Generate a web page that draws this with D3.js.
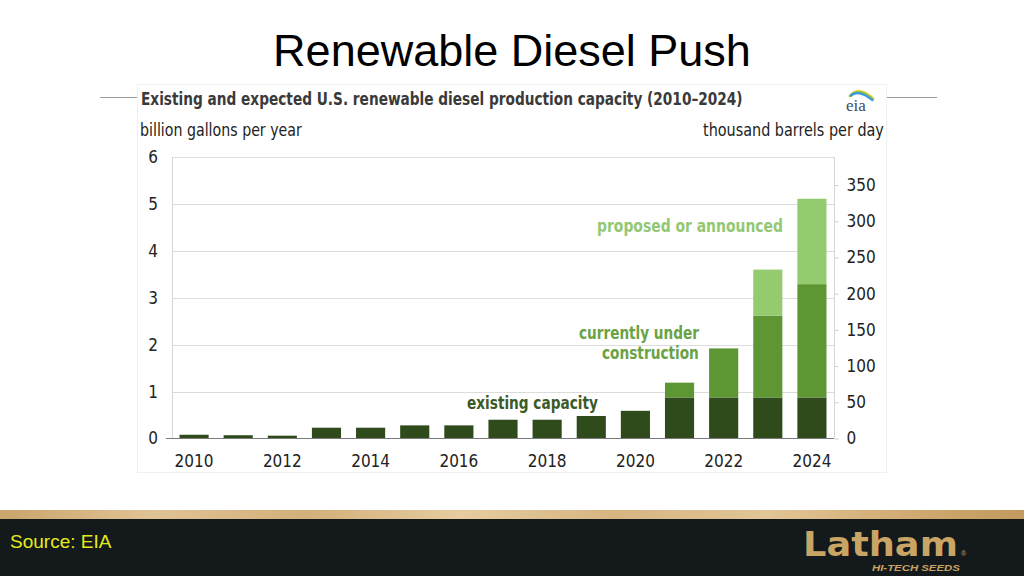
<!DOCTYPE html>
<html>
<head>
<meta charset="utf-8">
<script src="https://cdn.jsdelivr.net/npm/d3@7"></script>
<style>
  html, body { margin: 0; padding: 0; background: #fff; }
  svg { display: block; }
</style>
</head>
<body>
<svg id="chart" width="1024" height="576"></svg>
<script>
// ---- data ----
const years = [2010, 2011, 2012, 2013, 2014, 2015, 2016, 2017, 2018, 2019, 2020, 2021, 2022, 2023, 2024];
const existing     = [0.08, 0.07, 0.06, 0.23, 0.23, 0.28, 0.28, 0.40, 0.40, 0.48, 0.59, 0.875, 0.875, 0.875, 0.875];
const construction = [0, 0, 0, 0, 0, 0, 0, 0, 0, 0, 0, 0.315, 1.045, 1.745, 2.415];
const proposed     = [0, 0, 0, 0, 0, 0, 0, 0, 0, 0, 0, 0, 0, 0.98, 1.82];
const seriesNames = ["existing", "construction", "proposed"];
const leftTicks = [0, 1, 2, 3, 4, 5, 6];
const rightTicks = [0, 50, 100, 150, 200, 250, 300, 350];
const xTickYears = [2010, 2012, 2014, 2016, 2018, 2020, 2022, 2024];
const kbdPerBgy = 64.8;

const colors = { existing: "#2f4b1c", construction: "#5e9634", proposed: "#94cb6f" };
const narrow = "'Liberation Sans Narrow', 'Arial Narrow', 'DejaVu Sans Condensed', sans-serif";
const sans = "'Liberation Sans', Arial, Helvetica, sans-serif";

const svg = d3.select("#chart");

// fit a text horizontally to a width by scaling (keeps bbox honest)
function fitText(sel, x, y, width) {
  sel.attr("x", 0).attr("y", 0);
  const w = sel.node().getComputedTextLength();
  sel.attr("transform", `translate(${x},${y}) scale(${width / w},1)`);
  return sel;
}

// ---- slide background pieces ----
svg.append("rect").attr("x", 0).attr("y", 0).attr("width", 1024).attr("height", 576).attr("fill", "#fff");

// title
svg.append("text").attr("x", 512).attr("y", 66).attr("text-anchor", "middle")
  .attr("font-family", sans).attr("font-size", 45).attr("fill", "#000")
  .text("Renewable Diesel Push");

// decorative lines behind chart image
svg.append("line").attr("x1", 100).attr("x2", 137).attr("y1", 97.5).attr("y2", 97.5).attr("stroke", "#9a9a9a");
svg.append("line").attr("x1", 887).attr("x2", 937).attr("y1", 97.5).attr("y2", 97.5).attr("stroke", "#9a9a9a");

// chart image frame
svg.append("rect").attr("x", 137.5).attr("y", 84.5).attr("width", 749).attr("height", 388)
  .attr("fill", "#fff").attr("stroke", "#f0f0f0");

// bottom band
const defs = svg.append("defs");
const grad = defs.append("linearGradient").attr("id", "wood").attr("x1", 0).attr("x2", 1).attr("y1", 0).attr("y2", 0);
[[0, "#caa56c"], [0.15, "#e0c395"], [0.3, "#d2b07b"], [0.45, "#e6cc9f"], [0.6, "#d6b582"], [0.75, "#e2c697"], [0.9, "#cfa86f"], [1, "#c29a5e"]]
  .forEach(([o, c]) => grad.append("stop").attr("offset", o).attr("stop-color", c));
svg.append("rect").attr("x", 0).attr("y", 510).attr("width", 1024).attr("height", 10).attr("fill", "url(#wood)");
svg.append("rect").attr("x", 0).attr("y", 519).attr("width", 1024).attr("height", 57).attr("fill", "#14191b");
svg.append("text").attr("x", 10).attr("y", 548).attr("font-family", sans).attr("font-size", 19)
  .attr("fill", "#e3ec1c").text("Source: EIA");

// Latham logo
const gold = "#c9a465";
fitText(svg.append("text").attr("font-family", "'DejaVu Sans', sans-serif")
  .attr("font-weight", "bold").attr("font-size", 34).attr("fill", gold).text("Latham"), 803, 556, 155);
svg.append("text").attr("x", 961).attr("y", 556).attr("font-family", sans).attr("font-size", 7).attr("fill", gold).text("®");
fitText(svg.append("text").attr("font-family", sans).attr("font-weight", "bold")
  .attr("font-style", "italic").attr("font-size", 9.5).attr("fill", gold).text("HI-TECH SEEDS"), 872, 571, 88);

// ---- chart header ----
fitText(svg.append("text").attr("font-family", narrow).attr("font-size", 18)
  .attr("font-weight", "bold").attr("fill", "#3a3a3a")
  .text("Existing and expected U.S. renewable diesel production capacity (2010–2024)"), 141, 105, 602);
fitText(svg.append("text").attr("font-family", narrow).attr("font-size", 17)
  .attr("fill", "#222").text("billion gallons per year"), 140, 136, 162);
fitText(svg.append("text").attr("font-family", narrow).attr("font-size", 17)
  .attr("fill", "#222").text("thousand barrels per day"), 703, 136, 181);

// eia logo
const logo = svg.append("g");
[["#f2d33a", 0], ["#8cc152", 2.2], ["#3a9ad9", 4.4]].forEach(([c, off]) => {
  logo.append("path").attr("d", `M ${849 + off * 0.3} ${97 - off * 0.2} Q ${858} ${84 + off} ${874 - off * 0.2} ${99 + off * 0.4}`)
    .attr("fill", "none").attr("stroke", c).attr("stroke-width", 2.2);
});
logo.append("text").attr("x", 846).attr("y", 111).attr("font-family", "'Liberation Serif', 'DejaVu Serif', serif")
  .attr("font-size", 17).attr("fill", "#3d4a68").text("eia");

// ---- scales ----
const plotL = 172, plotR = 834, yTop = 157, yBase = 438.5;
const x = d3.scaleBand().domain(years).range([plotL, plotR]).paddingInner(0.34).paddingOuter(0.17);
const y = d3.scaleLinear().domain([0, 6]).range([yBase, yTop]);
const y2 = d3.scaleLinear().domain([0, 6 * kbdPerBgy]).range([yBase, yTop]);

// gridlines
const g = svg.append("g");
g.selectAll("line.grid").data(leftTicks.filter(d => d > 0)).join("line")
  .attr("x1", plotL).attr("x2", plotR)
  .attr("y1", d => Math.round(y(d)) + 0.5).attr("y2", d => Math.round(y(d)) + 0.5)
  .attr("stroke", "#dcdcdc");
g.append("line").attr("x1", plotL + 0.5).attr("x2", plotL + 0.5).attr("y1", yTop).attr("y2", yBase).attr("stroke", "#d6d6d6");
g.append("line").attr("x1", plotR + 0.5).attr("x2", plotR + 0.5).attr("y1", yTop).attr("y2", yBase).attr("stroke", "#d6d6d6");

// stacked bars
const table = years.map((yr, i) => ({ year: yr, existing: existing[i], construction: construction[i], proposed: proposed[i] }));
const stack = d3.stack().keys(seriesNames)(table);
svg.append("g").selectAll("g").data(stack).join("g")
  .attr("fill", d => colors[d.key])
  .selectAll("rect").data(d => d.filter(s => s[1] - s[0] > 0)).join("rect")
  .attr("x", d => x(d.data.year))
  .attr("width", x.bandwidth())
  .attr("y", d => y(d[1]))
  .attr("height", d => y(d[0]) - y(d[1]));

// baseline axis
svg.append("line").attr("x1", plotL - 6).attr("x2", plotR).attr("y1", yBase).attr("y2", yBase)
  .attr("stroke", "#7a7a7a").attr("stroke-width", 1.2);

// left axis labels
const leftAxis = d3.axisLeft(y).tickValues(leftTicks).tickSize(0).tickPadding(14).tickFormat(d3.format("d"));
const la = svg.append("g").attr("transform", `translate(${plotL},0)`).call(leftAxis);
la.select(".domain").remove();
la.selectAll("text").attr("font-family", narrow).attr("font-size", 17).attr("fill", "#222");

// right axis
const rightAxis = d3.axisRight(y2).tickValues(rightTicks).tickSize(4).tickPadding(8).tickFormat(d3.format("d"));
const ra = svg.append("g").attr("transform", `translate(${plotR + 0.5},0)`).call(rightAxis);
ra.select(".domain").remove();
ra.selectAll("line").attr("stroke", "#cfcfcf");
ra.selectAll("text").attr("font-family", narrow).attr("font-size", 17).attr("fill", "#222");

// bottom axis labels
const bottomAxis = d3.axisBottom(x).tickValues(xTickYears).tickSize(0).tickPadding(16);
const ba = svg.append("g").attr("transform", `translate(0,${yBase})`).call(bottomAxis);
ba.select(".domain").remove();
ba.selectAll("text").attr("font-family", narrow).attr("font-size", 17).attr("fill", "#222");

// annotations
const ann = svg.append("g").attr("font-family", narrow).attr("font-size", 17).attr("font-weight", "bold");
fitText(ann.append("text").attr("fill", "#3c5a27").text("existing capacity"), 467, 409, 131);
fitText(ann.append("text").attr("fill", "#6aa244").text("currently under"), 579, 339, 120);
fitText(ann.append("text").attr("fill", "#6aa244").text("construction"), 602, 359, 97);
fitText(ann.append("text").attr("fill", "#93c872").text("proposed or announced"), 597, 232, 186);
</script>
</body>
</html>
